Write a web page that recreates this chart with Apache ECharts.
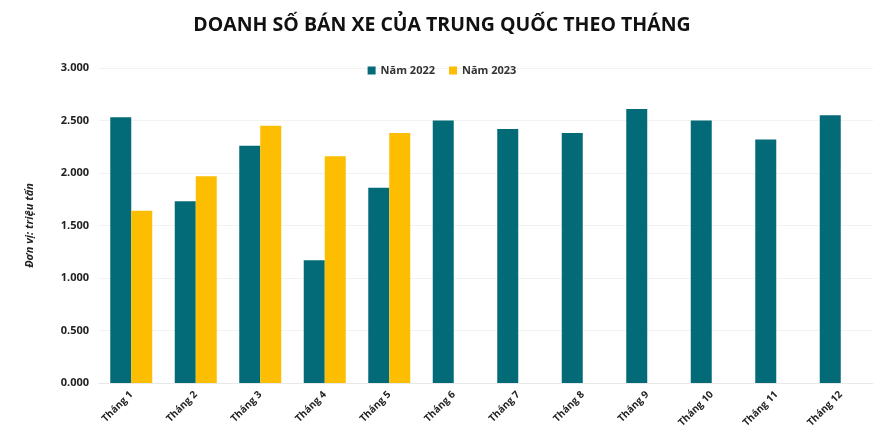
<!DOCTYPE html>
<html>
<head>
<meta charset="utf-8">
<script src="https://cdn.jsdelivr.net/npm/echarts@6/dist/echarts.min.js"></script>
<style>
  html, body { margin: 0; padding: 0; background: #fff; }
  #chart { width: 884px; height: 442px; }
</style>
</head>
<body>
<div id="chart"></div>
<script>
// --- Data ---
var months = ['Tháng 1', 'Tháng 2', 'Tháng 3', 'Tháng 4', 'Tháng 5', 'Tháng 6',
              'Tháng 7', 'Tháng 8', 'Tháng 9', 'Tháng 10', 'Tháng 11', 'Tháng 12'];
var sales2022 = [2.53, 1.73, 2.26, 1.17, 1.86, 2.50, 2.42, 2.38, 2.61, 2.50, 2.32, 2.55];
var sales2023 = [1.64, 1.97, 2.45, 2.16, 2.38];
var yTicks = [0, 0.5, 1, 1.5, 2, 2.5, 3];

var font = '"Open Sans", "Noto Sans", sans-serif';

// --- Chart ---
var myChart = echarts.init(document.getElementById('chart'));

myChart.setOption({
  animation: false,
  title: {
    text: 'DOANH SỐ BÁN XE CỦA TRUNG QUỐC THEO THÁNG',
    left: 'center',
    top: 10,
    textStyle: {
      fontFamily: font,
      fontSize: 19.5,
      fontWeight: 'bold',
      color: '#111'
    }
  },
  legend: {
    top: 60,
    left: 'center',
    itemWidth: 8,
    itemHeight: 8,
    itemGap: 14,
    icon: 'rect',
    textStyle: {
      fontFamily: font,
      fontSize: 11,
      fontWeight: 'bold',
      color: '#333'
    },
    data: ['Năm 2022', 'Năm 2023']
  },
  grid: {
    left: 99,
    right: 11,
    top: 68,
    bottom: 59
  },
  xAxis: {
    type: 'category',
    data: months,
    axisTick: { show: false },
    axisLine: { lineStyle: { color: '#e8e8e8' } },
    axisLabel: {
      rotate: 45,
      margin: 10,
      fontFamily: font,
      fontSize: 10,
      fontWeight: 'bold',
      color: '#222'
    }
  },
  yAxis: {
    type: 'value',
    min: yTicks[0],
    max: yTicks[yTicks.length - 1],
    interval: 0.5,
    name: 'Đơn vị: triệu tấn',
    nameLocation: 'middle',
    nameGap: 64,
    nameTextStyle: {
      fontFamily: font,
      fontSize: 11,
      fontWeight: 'bold',
      fontStyle: 'italic',
      color: '#222'
    },
    axisLabel: {
      margin: 10,
      fontFamily: font,
      fontSize: 11,
      fontWeight: 'bold',
      color: '#222',
      formatter: function (v) { return v.toFixed(3); }
    },
    splitLine: { lineStyle: { color: '#f2f2f2' } }
  },
  series: [{
    name: 'Năm 2022',
    type: 'bar',
    barWidth: 21,
    barGap: '0%',
    itemStyle: { color: '#036b78' },
    data: sales2022
  }, {
    name: 'Năm 2023',
    type: 'bar',
    barWidth: 21,
    itemStyle: { color: '#fdbd00' },
    data: sales2023
  }]
});
</script>
</body>
</html>
